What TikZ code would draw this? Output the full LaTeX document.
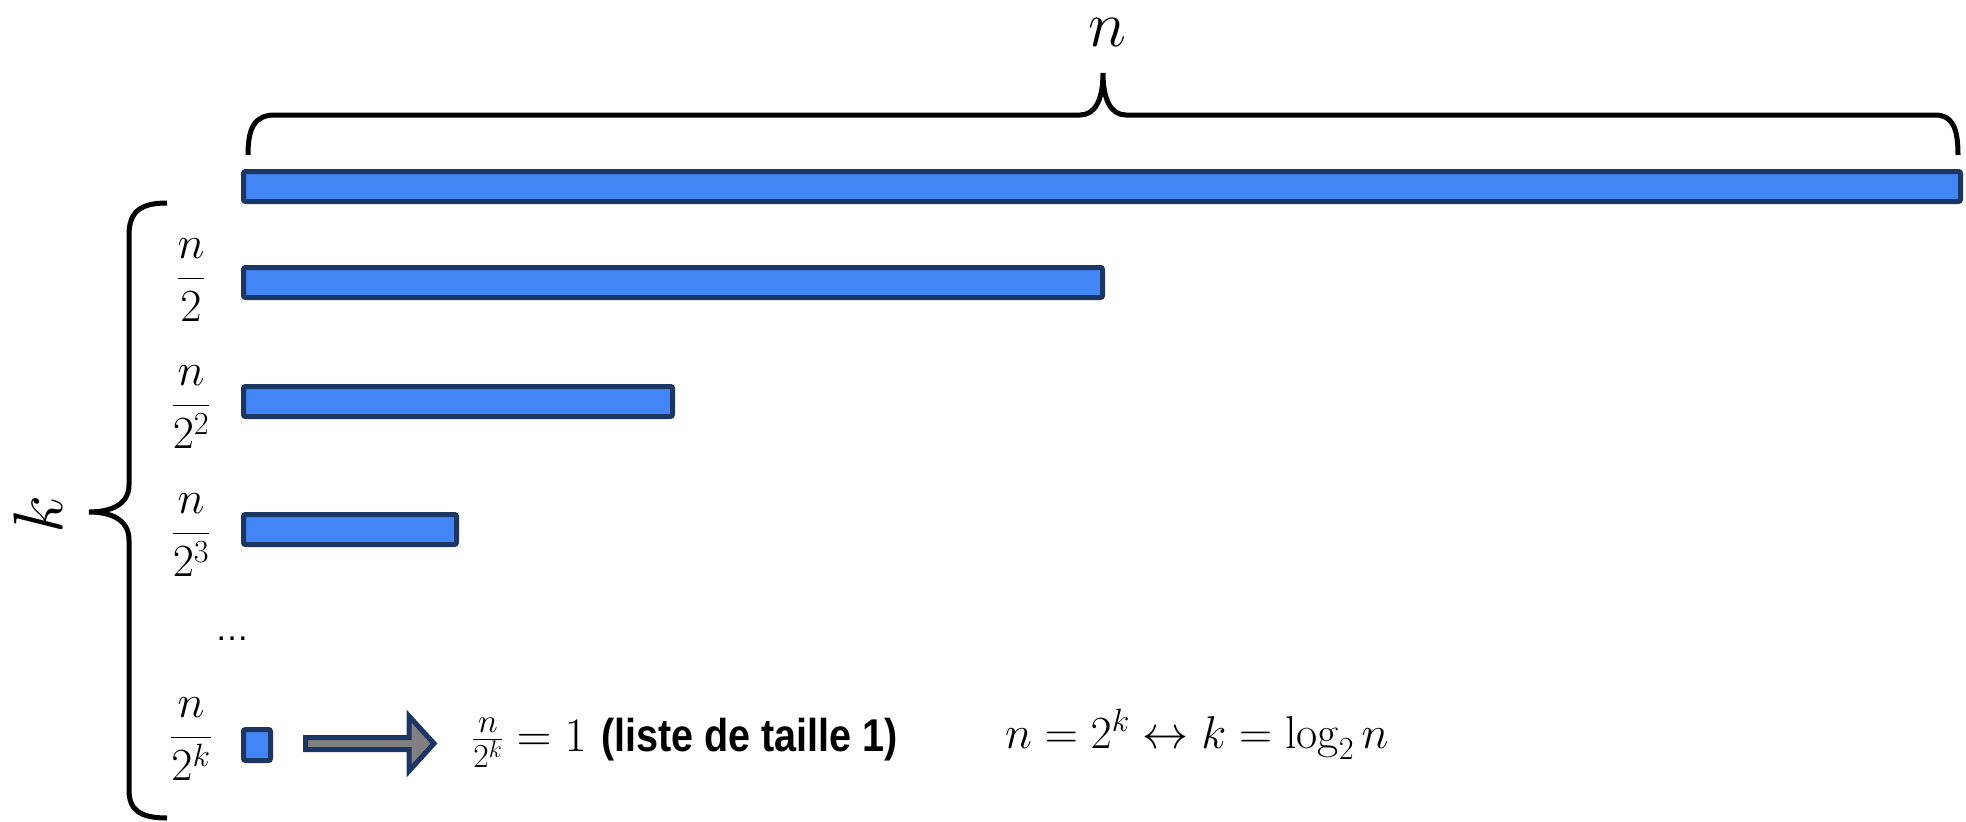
\RequirePackage{fix-cm}
\documentclass[tikz,border=0pt]{standalone}
\usepackage{amsmath}
\usepackage{fontspec}
\usepackage{graphicx}
\newfontfamily\labelsans{Liberation Sans}
\definecolor{barfill}{RGB}{66,133,244}
\definecolor{navy}{RGB}{28,54,100}
\definecolor{arrowgray}{RGB}{128,128,128}
\begin{document}
\begin{tikzpicture}[x=1pt,y=-1pt,
  bar/.style={fill=barfill,draw=navy,line width=5pt,rounded corners=2pt},
  brace/.style={draw=black,line width=5pt,line cap=butt},
  fraclbl/.style={inner sep=0pt,font=\fontsize{46}{52}\selectfont},
  blockarrow/.style={fill=arrowgray,draw=navy,line width=5pt,line join=miter},
]
\useasboundingbox (0,0) rectangle (1966,822);

% top brace and label
\draw[brace] (248,155) .. controls (248,127) and (255,115) .. (275,115)
  -- (1080,115) .. controls (1095,115) and (1103,100) .. (1103,73)
  .. controls (1103,100) and (1111,115) .. (1126,115)
  -- (1935,115) .. controls (1952,115) and (1958,127) .. (1958,155);
\node[inner sep=0pt,font=\fontsize{65}{70}\selectfont] (ntop) at (1107,33) {$n$};

% left brace and label
\draw[brace] (167,203) .. controls (140,203) and (129,212) .. (129,235)
  -- (129,485) .. controls (129,505) and (110,512) .. (89,512)
  .. controls (110,512) and (129,519) .. (129,540)
  -- (129,790) .. controls (129,810) and (140,818) .. (167,818);
\node[inner sep=0pt,rotate=90,font=\fontsize{70}{75}\selectfont] (kleft) at (38,514) {$k$};

% bars
\draw[bar] (243.5,171.5) rectangle (1960.5,201.5);
\draw[bar] (243.5,267.5) rectangle (1102.5,297.5);
\draw[bar] (243.5,386.5) rectangle (672.5,416.5);
\draw[bar] (243.5,514.5) rectangle (456.5,544.5);
\draw[bar] (243.5,729.5) rectangle (270.5,760.5);

% fraction labels
\node[fraclbl] (f1) at (191,280) {$\dfrac{n}{2}$};
\node[fraclbl] (f2) at (191,407) {$\dfrac{n}{2^2}$};
\node[fraclbl] (f3) at (191,535) {$\dfrac{n}{2^3}$};
\node[fraclbl] (f4) at (191,739) {$\dfrac{n}{2^k}$};
\node[inner sep=0pt,anchor=base,font=\labelsans\fontsize{34}{40}\selectfont] (dots) at (232,640) {…};

% block arrow
\draw[blockarrow] (305.5,737.5) -- (409,737.5) -- (409,716) -- (434,743.5)
  -- (409,771) -- (409,749.5) -- (305.5,749.5) -- cycle;

% equations
\node[anchor=base west,inner sep=0pt] (eq1) at (472,751)
  {\fontsize{48}{56}\selectfont $\frac{n}{2^k}=1$ \fontsize{46}{55}\selectfont\scalebox{0.86}[1]{\labelsans\bfseries (liste de taille 1)}};
\node[anchor=base west,inner sep=0pt] (eq2) at (1005,748)
  {\fontsize{46}{55}\selectfont $n=2^k\leftrightarrow k=\log_2 n$};
\end{tikzpicture}
\end{document}
